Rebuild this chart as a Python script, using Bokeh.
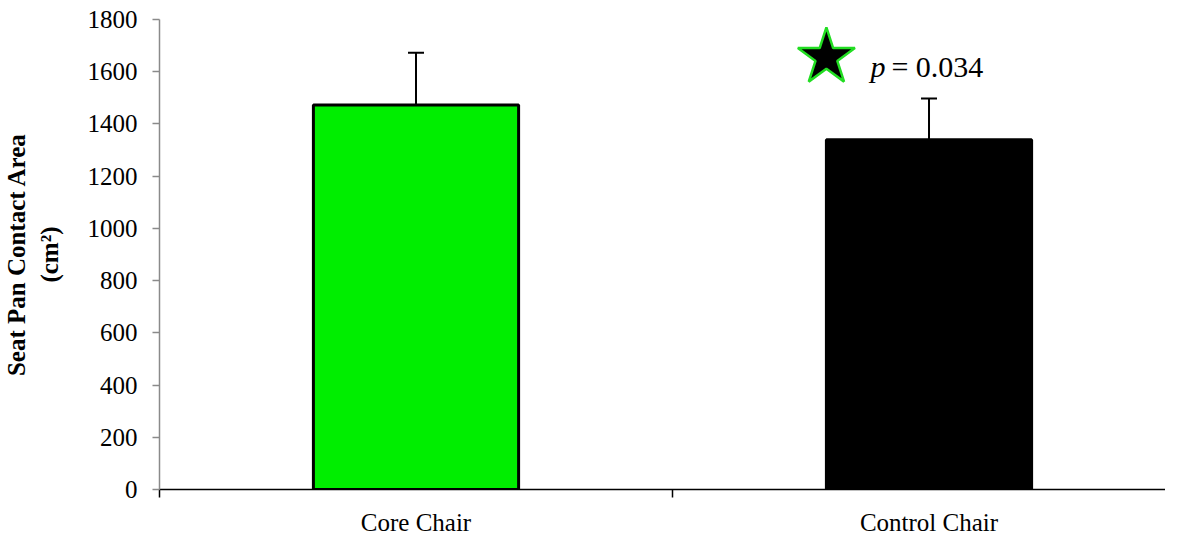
from bokeh.plotting import figure
from bokeh.models import Range1d, FixedTicker, Whisker, TeeHead, ColumnDataSource, Label
from bokeh.embed import file_html
from bokeh.resources import INLINE

categories = ["Core Chair", "Control Chair"]
means = [1473, 1339]
errors = [200, 158]
y_ticks = [0, 200, 400, 600, 800, 1000, 1200, 1400, 1600, 1800]
bar_colors = ["#00ee00", "#000000"]
p_text = "= 0.034"
star_pos = (1.30, 1655)

xs = [i + 0.5 for i in range(len(categories))]
src = ColumnDataSource(dict(
    x=xs, top=means, upper=[m + e for m, e in zip(means, errors)],
    color=bar_colors, cat=categories,
))

FONT = "Liberation Serif"

p = figure(width=1165, height=538, output_backend="svg", toolbar_location=None,
           x_range=Range1d(0, 1.961), y_range=Range1d(0, 1800),
           min_border_left=151, min_border_top=19, min_border_bottom=48, min_border_right=0)
p.outline_line_color = None
p.xgrid.visible = False
p.ygrid.visible = False

p.vbar(x="x", top="top", width=0.4, bottom=0, fill_color="color",
       line_color="black", line_width=3, source=src)

wh = Whisker(base="x", lower="top", upper="upper", source=src,
             upper_head=TeeHead(size=16, line_color="black", line_width=2),
             lower_head=None, line_color="black", line_width=2)
p.add_layout(wh)

# significance marker
p.scatter([star_pos[0]], [star_pos[1]], marker="star", size=60,
          fill_color="black", line_color="#22dd22", line_width=2.5)
p.add_layout(Label(x=star_pos[0], y=star_pos[1], x_offset=44, y_offset=-9,
                   text="p", text_font=FONT, text_font_style="italic",
                   text_font_size="30px", text_color="black", text_baseline="alphabetic"))
p.add_layout(Label(x=star_pos[0], y=star_pos[1], x_offset=65, y_offset=-9,
                   text=p_text, text_font=FONT,
                   text_font_size="30px", text_color="black", text_baseline="alphabetic"))

# y axis
p.yaxis.ticker = FixedTicker(ticks=y_ticks, minor_ticks=[])
p.yaxis.axis_line_color = "#8a8a8a"
p.yaxis.axis_line_width = 1.5
p.yaxis.major_tick_line_color = "#8a8a8a"
p.yaxis.major_tick_line_width = 1.5
p.yaxis.major_tick_out = 7
p.yaxis.major_tick_in = 0
p.yaxis.minor_tick_line_color = None
p.yaxis.major_label_standoff = 15
p.yaxis.major_label_text_font = FONT
p.yaxis.major_label_text_font_size = "25px"
p.yaxis.major_label_text_color = "black"
p.yaxis.axis_label = "Seat Pan Contact Area\n(cm\u00b2)"
p.yaxis.axis_label_text_font = FONT
p.yaxis.axis_label_text_font_style = "bold"
p.yaxis.axis_label_text_font_size = "25px"
p.yaxis.axis_label_text_color = "black"
p.yaxis.axis_label_standoff = 22

# x axis: labels at category centres, tick marks at category boundaries
p.xaxis.ticker = FixedTicker(ticks=xs, minor_ticks=list(range(len(categories) + 1)))
p.xaxis.major_label_overrides = {x: c for x, c in zip(xs, categories)}
p.xaxis.axis_line_color = "black"
p.xaxis.axis_line_width = 1.5
p.xaxis.major_tick_line_color = None
p.xaxis.major_tick_out = 0
p.xaxis.major_tick_in = 0
p.xaxis.minor_tick_line_color = "black"
p.xaxis.minor_tick_line_width = 1.5
p.xaxis.minor_tick_out = 8
p.xaxis.minor_tick_in = 0
p.xaxis.major_label_standoff = 11
p.xaxis.major_label_text_font = FONT
p.xaxis.major_label_text_font_size = "25px"
p.xaxis.major_label_text_color = "black"

open("out.html", "w").write(file_html(p, INLINE))
